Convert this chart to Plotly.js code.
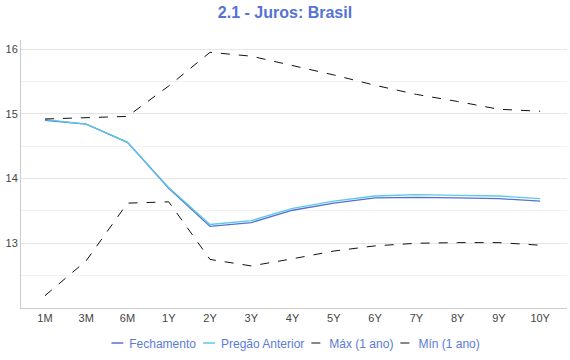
<!DOCTYPE html>
<html><head><meta charset="utf-8">
<script src="https://cdn.plot.ly/plotly-3.0.1.min.js"></script>
<style>html,body{margin:0;padding:0;background:#fff}#c{width:570px;height:360px}</style>
</head><body><div id="c"></div>
<script>
const categories = ["1M","3M","6M","1Y","2Y","3Y","4Y","5Y","6Y","7Y","8Y","9Y","10Y"];
const fechamento = [14.90,14.84,14.56,13.85,13.26,13.32,13.51,13.62,13.70,13.71,13.70,13.69,13.65];
const pregaoAnterior = [14.91,14.84,14.56,13.86,13.29,13.35,13.54,13.65,13.73,13.75,13.74,13.73,13.69];
const maxAno = [14.92,14.94,14.96,15.43,15.95,15.89,15.75,15.60,15.44,15.30,15.19,15.07,15.04];
const minAno = [12.19,12.73,13.62,13.64,12.75,12.65,12.76,12.88,12.96,13.00,13.01,13.01,12.97];
const seriesNames = ["Fechamento","Pregão Anterior","Máx (1 ano)","Mín (1 ano)"];
const yTicks = [13,14,15,16];

const traces = [
  {x:categories,y:fechamento,name:seriesNames[0],mode:"lines",line:{color:"#5470d0",width:1.3}},
  {x:categories,y:pregaoAnterior,name:seriesNames[1],mode:"lines",line:{color:"#5cc8e6",width:1.3}},
  {x:categories,y:maxAno,name:seriesNames[2],mode:"lines",line:{color:"#111",width:1,dash:"dash"}},
  {x:categories,y:minAno,name:seriesNames[3],mode:"lines",line:{color:"#111",width:1,dash:"dash"}}
];
const layout = {
  width:570,height:360,
  margin:{l:21,r:3,t:40,b:52},
  paper_bgcolor:"#fff",plot_bgcolor:"#fff",
  font:{family:"Liberation Sans, Arial, sans-serif",size:11,color:"#444"},
  title:{text:"<b>2.1 - Juros: Brasil</b>",x:0.5,xanchor:"center",y:0.965,yanchor:"middle",font:{size:16,color:"#5572d4"}},
  showlegend:true,
  legend:{orientation:"h",x:0.5,xanchor:"center",xref:"container",yref:"container",y:0.045,yanchor:"middle",font:{size:12,color:"#5b7bd8"},itemwidth:30},
  xaxis:{type:"category",range:[-0.58,12.65],showgrid:false,showline:true,linecolor:"#ccc",ticks:"",zeroline:false,fixedrange:true,automargin:false,tickfont:{size:11,color:"#444"}},
  yaxis:{range:[12.0,16.14],tickmode:"array",tickvals:yTicks,showgrid:true,gridcolor:"#e6e6e6",showline:true,linecolor:"#ccc",zeroline:false,ticks:"",automargin:false,
    minor:{dtick:0.5,tick0:0,showgrid:true,gridcolor:"#f2f2f2"},tickfont:{size:11,color:"#444"}}
};
const gd = document.getElementById("c");
Plotly.newPlot(gd,traces,layout,{displayModeBar:false,staticPlot:true}).then(()=>{
  const leg = gd.querySelector(".legend");
  if(!leg) return;
  const items = leg.querySelectorAll(".traces");
  let x = 0, y0 = null;
  items.forEach(g=>{
    const m = /translate\(([-\d.]+)[ ,]*([-\d.]+)?\)/.exec(g.getAttribute("transform")||"");
    const yy = m ? parseFloat(m[2]||0) : 0;
    if(y0===null) y0 = yy;
    const p = g.querySelector("path.js-line");
    if(p) p.setAttribute("d","M0,0h12");
    const t = g.querySelector("text.legendtext");
    t.setAttribute("x",18);
    const w = t.getComputedTextLength();
    g.setAttribute("transform",`translate(${x},${y0})`);
    x += 18 + w + 7;
  });
  const total = x - 7;
  leg.setAttribute("transform",`translate(${295.5-total/2},${343-y0})`);
});
</script></body></html>
